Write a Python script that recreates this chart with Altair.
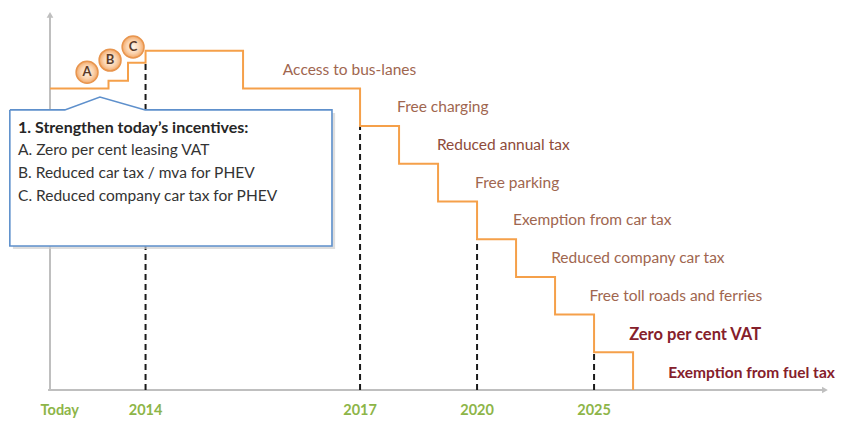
import altair as alt
import pandas as pd

# ---- data (x: timeline units, level: incentive level) ----
step_x = [0, 1.5, 2.0, 2.45, 4.95, 7.95, 8.95, 9.95, 10.95, 11.95, 12.95, 13.95, 14.95]
step_level = [8, 8.2, 8.68, 9, 8, 7, 6, 5, 4, 3, 2, 1, 0]

milestone_labels = ["Today", "2014", "2017", "2020", "2025"]
milestone_x = [0.25, 2.45, 7.95, 10.95, 13.95]
milestone_level = -0.56

dashed_x = [2.45, 7.95, 10.95, 13.95]
dashed_top = [8.68, 7, 4, 1]

incentives = ["Access to bus-lanes", "Free charging", "Reduced annual tax", "Free parking",
              "Exemption from car tax", "Reduced company car tax", "Free toll roads and ferries",
              "Zero per cent VAT", "Exemption from fuel tax"]
incentive_x = [5.97, 8.9, 9.92, 10.9, 11.87, 12.85, 13.83, 14.85, 15.85]
incentive_level = [8.5, 7.5, 6.5, 5.5, 4.5, 3.5, 2.5, 1.45, 0.45]
incentive_color = ["#A0664F"] * 2 + ["#8E4B3A"] + ["#A0664F"] * 4 + ["#85202B"] * 2
incentive_weight = ["normal"] * 7 + ["bold"] * 2
incentive_size = [15.5] * 7 + [16.5, 15.5]

badges = ["A", "B", "C"]
badge_x = [0.95, 1.54, 2.13]
badge_level = [8.43, 8.75, 9.1]

callout_lines = ["1. Strengthen today\u2019s incentives:", "A. Zero per cent leasing VAT",
                 "B. Reduced car tax / mva for PHEV", "C. Reduced company car tax for PHEV"]
callout_level = [6.95, 6.37, 5.76, 5.15]
callout_weight = ["bold", "normal", "normal", "normal"]
callout_x = -0.82

box_x = [-1.03, 7.23]
box_level = [3.82, 7.43]
notch_x = [0.38, 1.28, 2.44]
notch_level = [7.43, 7.77, 7.43]

axis_end_x = 19.87
axis_end_level = 9.95

# ---- scales ----
XS = alt.Scale(domain=[-1.077, 20.256], nice=False, zero=False)
YS = alt.Scale(domain=[-0.796, 10.133], nice=False, zero=False)


def X(f="x"):
    return alt.X(f"{f}:Q", scale=XS, axis=None)


def Y(f="y"):
    return alt.Y(f"{f}:Q", scale=YS, axis=None)


# axes
axis_df = pd.DataFrame({"x": [0, -0.05], "x2": [0, axis_end_x], "y": [0, 0], "y2": [axis_end_level, 0]})
axes = alt.Chart(axis_df).mark_rule(color="#BFBFBF", strokeWidth=2).encode(
    x=X(), x2="x2:Q", y=Y(), y2="y2:Q")
arrow_df = pd.DataFrame({"x": [0, axis_end_x], "y": [axis_end_level, 0],
                         "s": ["triangle-up", "triangle-right"]})
arrows = alt.Chart(arrow_df).mark_point(filled=True, color="#BFBFBF", size=45, opacity=1).encode(
    x=X(), y=Y(), shape=alt.Shape("s:N", scale=None))

# dashed milestone lines
dash_df = pd.DataFrame({"x": dashed_x, "y": [0] * 4, "y2": dashed_top})
dashes = alt.Chart(dash_df).mark_rule(color="#1A1A1A", strokeWidth=2, strokeDash=[6, 4]).encode(
    x=X(), y=Y(), y2="y2:Q")

# step line
step_df = pd.DataFrame({"x": step_x, "y": step_level})
steps = alt.Chart(step_df).mark_line(color="#F5A04A", strokeWidth=2, interpolate="step-after").encode(
    x=X(), y=Y())

# callout box
shadow_df = pd.DataFrame({"x": [box_x[0] + 0.08], "x2": [box_x[1] + 0.08],
                          "y": [box_level[0] - 0.08], "y2": [box_level[1] - 0.08]})
shadow = alt.Chart(shadow_df).mark_rect(fill="#D0D0D0", opacity=0.7).encode(
    x=X(), x2="x2:Q", y=Y(), y2="y2:Q")
box_df = pd.DataFrame({"x": [box_x[0]], "x2": [box_x[1]], "y": [box_level[0]], "y2": [box_level[1]]})
box = alt.Chart(box_df).mark_rect(fill="white").encode(x=X(), x2="x2:Q", y=Y(), y2="y2:Q")
notch_df = pd.DataFrame({"x": notch_x, "y": notch_level, "y2": [box_level[1]] * 3})
notch = alt.Chart(notch_df).mark_area(color="white", opacity=1).encode(x=X(), y=Y(), y2="y2:Q")
border_pts_x = [box_x[0], notch_x[0], notch_x[1], notch_x[2], box_x[1], box_x[1], box_x[0], box_x[0]]
border_pts_y = [box_level[1], notch_level[0], notch_level[1], notch_level[2], box_level[1],
                box_level[0], box_level[0], box_level[1]]
border_df = pd.DataFrame({"x": border_pts_x, "y": border_pts_y, "o": list(range(8))})
border = alt.Chart(border_df).mark_line(color="#5E90CC", strokeWidth=1.6).encode(
    x=X(), y=Y(), order="o:Q")

callout_df = pd.DataFrame({"x": [callout_x] * 4, "y": callout_level, "t": callout_lines, "w": callout_weight})
callout_bold = alt.Chart(callout_df[callout_df.w == "bold"]).mark_text(
    align="left", baseline="middle", font="Lato", fontSize=16, fontWeight="bold", color="#262626").encode(
    x=X(), y=Y(), text="t:N")
callout_norm = alt.Chart(callout_df[callout_df.w == "normal"]).mark_text(
    align="left", baseline="middle", font="Lato", fontSize=15.5, color="#333333").encode(
    x=X(), y=Y(), text="t:N")

# badges
grad = alt.RadialGradient(gradient="radial", stops=[
    alt.GradientStop(offset=0, color="#FFF6EC"),
    alt.GradientStop(offset=0.6, color="#FBD3AE"),
    alt.GradientStop(offset=1, color="#F2A868")])
badge_df = pd.DataFrame({"x": badge_x, "y": badge_level, "t": badges})
badge_circles = alt.Chart(badge_df).mark_point(
    shape="circle", filled=True, fill=grad, stroke="#E8954E", strokeWidth=1.5, size=480, opacity=1).encode(
    x=X(), y=Y())
badge_text = alt.Chart(badge_df).mark_text(
    font="Lato", fontSize=13, fontWeight="bold", color="#5A3A28", baseline="middle").encode(
    x=X(), y=Y(), text="t:N")

# incentive labels
inc_df = pd.DataFrame({"x": incentive_x, "y": incentive_level, "t": incentives,
                       "c": incentive_color, "w": incentive_weight, "s": incentive_size})
inc_norm = alt.Chart(inc_df[inc_df.w == "normal"]).mark_text(
    align="left", baseline="middle", font="Lato").encode(
    x=X(), y=Y(), text="t:N", color=alt.Color("c:N", scale=None),
    size=alt.Size("s:Q", scale=None))
inc_bold = alt.Chart(inc_df[inc_df.w == "bold"]).mark_text(
    align="left", baseline="middle", font="Lato", fontWeight="bold").encode(
    x=X(), y=Y(), text="t:N", color=alt.Color("c:N", scale=None),
    size=alt.Size("s:Q", scale=None))

# milestone labels
ms_df = pd.DataFrame({"x": milestone_x, "y": [milestone_level] * 5, "t": milestone_labels})
ms = alt.Chart(ms_df).mark_text(
    font="Lato", fontSize=14.5, fontWeight="bold", color="#8DB548", baseline="middle").encode(
    x=X(), y=Y(), text="t:N")

chart = alt.layer(
    axes, arrows, dashes, steps, shadow, box, notch, border,
    callout_bold, callout_norm, badge_circles, badge_text, inc_norm, inc_bold, ms
).properties(
    width=832, height=412, autosize=alt.AutoSizeParams(type="none"), padding=0,
    background="white"
).configure_view(stroke=None)

chart.save("out.html", embed_options={"renderer": "svg", "actions": False})
